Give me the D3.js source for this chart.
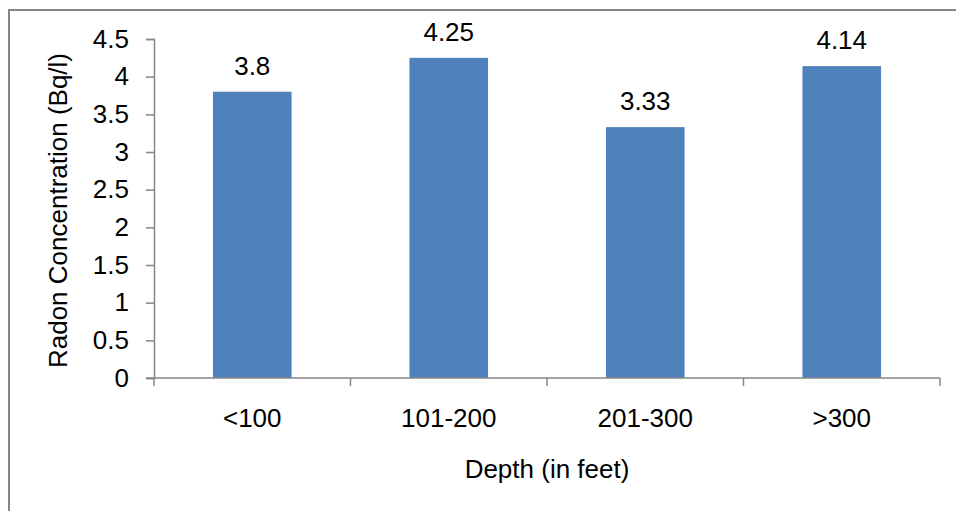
<!DOCTYPE html>
<html>
<head>
<meta charset="utf-8">
<script src="https://cdn.jsdelivr.net/npm/d3@7"></script>
<style>
  body { margin: 0; background: #fff; }
  text { font-family: "Liberation Sans", Arial, sans-serif; fill: #000; }
</style>
</head>
<body>
<svg id="chart" width="956" height="511"></svg>
<script>
// data
const depths = ["<100", "101-200", "201-300", ">300"];
const radon = [3.8, 4.25, 3.33, 4.14];
const yTicks = [0, 0.5, 1, 1.5, 2, 2.5, 3, 3.5, 4, 4.5];

const svg = d3.select("#chart");
const fontSize = 26;
const axisColor = "#868686";
const barColor = "#4F81BD";

// plot area
const plotLeft = 154, plotRight = 940, plotTop = 39, plotBottom = 378;

// outer chart frame (runs off the right and bottom edge)
svg.append("rect")
    .attr("x", 9).attr("y", 10)
    .attr("width", 960).attr("height", 520)
    .attr("fill", "none")
    .attr("stroke", axisColor)
    .attr("stroke-width", 2);

const x = d3.scaleBand()
    .domain(depths)
    .range([plotLeft, plotRight])
    .padding(0);

const y = d3.scaleLinear()
    .domain([0, 4.5])
    .range([plotBottom, plotTop]);

const barWidth = x.bandwidth() * 0.4;

// bars
svg.append("g")
    .selectAll("rect")
    .data(depths)
    .join("rect")
    .attr("x", d => x(d) + x.bandwidth() / 2 - barWidth / 2)
    .attr("y", (d, i) => y(radon[i]))
    .attr("width", barWidth)
    .attr("height", (d, i) => y(0) - y(radon[i]))
    .attr("fill", barColor);

// value labels
svg.append("g")
    .selectAll("text")
    .data(depths)
    .join("text")
    .attr("x", d => x(d) + x.bandwidth() / 2)
    .attr("y", (d, i) => y(radon[i]) - 17)
    .attr("text-anchor", "middle")
    .style("font-size", fontSize + "px")
    .text((d, i) => radon[i]);

// y axis
const yAxis = svg.append("g")
    .attr("transform", `translate(${plotLeft},0)`)
    .call(d3.axisLeft(y).tickValues(yTicks).tickSize(8).tickPadding(17)
        .tickFormat(d3.format("")));
yAxis.select(".domain").attr("stroke", axisColor).attr("stroke-width", 1.5);
yAxis.selectAll(".tick line").attr("stroke", axisColor).attr("stroke-width", 1.5);
yAxis.selectAll(".tick text")
    .style("font-size", fontSize + "px")
    .style("font-family", "'Liberation Sans', Arial, sans-serif")
    .attr("fill", "#000");

// x axis with ticks at category boundaries
const xAxis = svg.append("g")
    .attr("transform", `translate(0,${plotBottom})`);
xAxis.append("line")
    .attr("x1", plotLeft - 8).attr("x2", plotRight)
    .attr("stroke", axisColor).attr("stroke-width", 1.5);
xAxis.selectAll("line.tick")
    .data(depths.concat(["end"]))
    .join("line")
    .attr("class", "tick")
    .attr("x1", (d, i) => i < depths.length ? x(d) : plotRight)
    .attr("x2", (d, i) => i < depths.length ? x(d) : plotRight)
    .attr("y1", 0).attr("y2", 8)
    .attr("stroke", axisColor).attr("stroke-width", 1.5);
xAxis.selectAll("text")
    .data(depths)
    .join("text")
    .attr("x", d => x(d) + x.bandwidth() / 2)
    .attr("y", 49)
    .attr("text-anchor", "middle")
    .style("font-size", fontSize + "px")
    .text(d => d);

// axis titles
svg.append("text")
    .attr("x", (plotLeft + plotRight) / 2)
    .attr("y", 478)
    .attr("text-anchor", "middle")
    .style("font-size", fontSize + "px")
    .text("Depth (in feet)");

svg.append("text")
    .attr("transform", `translate(67,${(plotTop + plotBottom) / 2 + 2}) rotate(-90)`)
    .attr("text-anchor", "middle")
    .style("font-size", fontSize + "px")
    .text("Radon Concentration (Bq/l)");
</script>
</body>
</html>
